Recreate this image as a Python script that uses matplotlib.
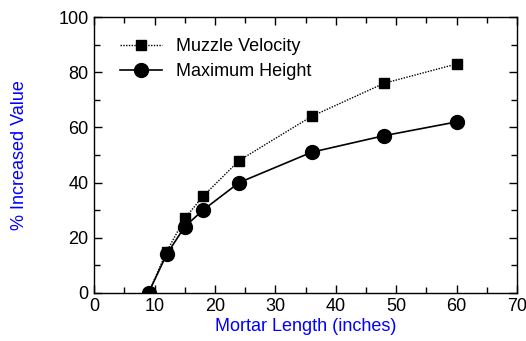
import matplotlib
matplotlib.use("Agg")
import matplotlib.pyplot as plt
from matplotlib.ticker import MultipleLocator

plt.rcParams['font.family'] = ['Liberation Sans', 'DejaVu Sans']

length = [9, 12, 15, 18, 24, 36, 48, 60]
muzzle_velocity = [0, 15, 27, 35, 48, 64, 76, 83]
max_height = [0, 14, 24, 30, 40, 51, 57, 62]

fig = plt.figure(figsize=(5.26, 3.41), dpi=100)
ax = fig.add_axes([0.179, 0.141, 0.804, 0.809])

ax.plot(length, muzzle_velocity, color='black', linestyle=(0, (1, 1)), linewidth=1.0,
        marker='s', markersize=6.5, label='Muzzle Velocity')
ax.plot(length, max_height, color='black', linestyle='-', linewidth=1.2,
        marker='o', markersize=10, label='Maximum Height')

ax.set_xlim(0, 70)
ax.set_ylim(0, 100)
ax.xaxis.set_major_locator(MultipleLocator(10))
ax.xaxis.set_minor_locator(MultipleLocator(5))
ax.yaxis.set_major_locator(MultipleLocator(20))
ax.yaxis.set_minor_locator(MultipleLocator(10))
ax.tick_params(which='both', direction='in', top=True, right=True, labelsize=13, pad=4)
ax.tick_params(which='major', length=6, width=1)
ax.tick_params(which='minor', length=4, width=1)
for s in ax.spines.values():
    s.set_linewidth(1)

ax.set_xlabel('Mortar Length (inches)', color='#0000ff', fontsize=13, labelpad=2)
ax.set_ylabel('% Increased Value', color='#0000ff', fontsize=13, labelpad=22)

ax.legend(loc='upper left', frameon=False, fontsize=13, handlelength=2.3,
          borderaxespad=0.0, labelspacing=0.45, handletextpad=0.8,
          bbox_to_anchor=(0.045, 0.95))

fig.savefig('out.png', dpi=100)
